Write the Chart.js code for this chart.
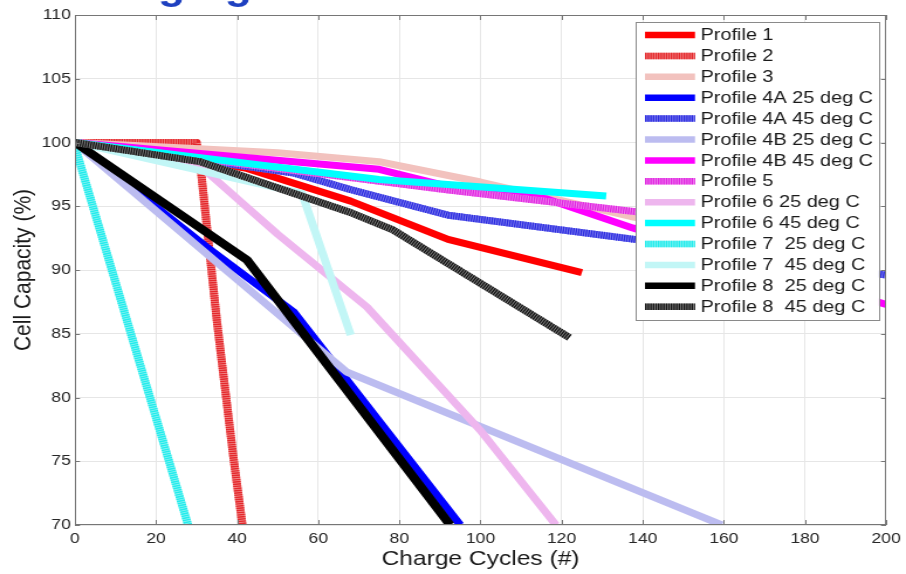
<!DOCTYPE html>
<html><head><meta charset="utf-8">
<script src="https://cdn.jsdelivr.net/npm/chart.js@4/dist/chart.umd.min.js"></script>
<style>html,body{margin:0;padding:0;background:#fff;overflow:hidden}</style>
</head><body>
<canvas id="c" width="774" height="574" style="width:906px;height:574px;display:block"></canvas>
<script>
// ---------- DATA ----------
const seriesNames = ["Profile 1","Profile 2","Profile 3","Profile 4A 25 deg C","Profile 4A 45 deg C","Profile 4B 25 deg C","Profile 4B 45 deg C","Profile 5","Profile 6 25 deg C","Profile 6 45 deg C","Profile 7  25 deg C","Profile 7  45 deg C","Profile 8  25 deg C","Profile 8  45 deg C"];
const xTickValues = [0,20,40,60,80,100,120,140,160,180,200];
const yTickValues = [70,75,80,85,90,95,100,105,110];

const p1Cycles = [0,42,68,92,125];            const p1Capacity = [100,98,95.4,92.4,89.8];
const p2Cycles = [0,30,31,35,39,41.3];        const p2Capacity = [100,100,98,86,75.5,70];
const p3Cycles = [0,50,75,100,137,155];       const p3Capacity = [100,99.2,98.5,96.9,94.2,93.2];
const p4a25Cycles = [0,32.5,54,95];           const p4a25Capacity = [100,91.8,86.7,70];
const p4a45Cycles = [0,54,68,92,138,200];     const p4a45Capacity = [100,97.6,96.3,94.3,92.4,89.6];
const p4b25Cycles = [0,67,159.5];             const p4b25Capacity = [100,82,70];
const p4b45Cycles = [0,75,91.5,116,137.5,200];const p4b45Capacity = [100,97.9,96.6,95.6,93.3,87.3];
const p5Cycles = [0,91.5,137.5,155];          const p5Capacity = [100,96.3,94.6,94.0];
const p6a25Cycles = [0,30,50,72,100,118.6];   const p6a25Capacity = [100,98.4,92.8,87.1,77.4,70];
const p6a45Cycles = [0,75,131];               const p6a45Capacity = [100,97.1,95.8];
const p7a25Cycles = [0,27.9];                 const p7a25Capacity = [99.7,70];
const p7a45Cycles = [0,56,68];                const p7a45Capacity = [100,96,84.9];
const p8a25Cycles = [0,42.4,92.5];            const p8a25Capacity = [100,90.8,70];
const p8a45Cycles = [0,30.8,68,78.4,121.9];   const p8a45Capacity = [100,98.5,94.5,93.15,84.7];

const allCycles = [p1Cycles,p2Cycles,p3Cycles,p4a25Cycles,p4a45Cycles,p4b25Cycles,p4b45Cycles,p5Cycles,p6a25Cycles,p6a45Cycles,p7a25Cycles,p7a45Cycles,p8a25Cycles,p8a45Cycles];
const allCapacity = [p1Capacity,p2Capacity,p3Capacity,p4a25Capacity,p4a45Capacity,p4b25Capacity,p4b45Capacity,p5Capacity,p6a25Capacity,p6a45Capacity,p7a25Capacity,p7a45Capacity,p8a25Capacity,p8a45Capacity];

// ---------- STYLE ----------
const styles = [
  {c:'#ff0000', h:null, w:7},
  {c:'#e4282c', h:'#f28a8a', w:7},
  {c:'#f2c2be', h:null, w:7},
  {c:'#0000ff', h:null, w:7},
  {c:'#2b2be0', h:'#8a8af0', w:7},
  {c:'#bcbcf0', h:null, w:7},
  {c:'#ff00ff', h:null, w:7},
  {c:'#e024e0', h:'#f290f2', w:7},
  {c:'#eeb6ee', h:null, w:7},
  {c:'#00ffff', h:null, w:7},
  {c:'#22ecec', h:'#8ef4f4', w:7},
  {c:'#c2f6f6', h:null, w:7},
  {c:'#000000', h:null, w:8},
  {c:'#151515', h:'#8a8a8a', w:7}
];
const DASH = [1.4, 0.8];
const SX = 906/774; // horizontal stretch of the picture
const FONT = '"Liberation Sans", Arial, Helvetica, sans-serif';
Chart.defaults.font.family = FONT;

const datasets = seriesNames.map((name,i)=>({
  label: name,
  data: allCycles[i].map((x,k)=>({x:x, y:allCapacity[i][k]})),
  borderColor: styles[i].c,
  backgroundColor: styles[i].c,
  borderWidth: styles[i].w,
  borderDash: styles[i].h ? DASH : [],
  hatchColor: styles[i].h,
  borderCapStyle: 'butt',
  borderJoinStyle: 'round',
  showLine: true,
  pointRadius: 0,
  pointHoverRadius: 0,
  tension: 0,
  clip: 0,
  order: seriesNames.length - i
}));

const hatchPlugin = {
  id: 'hatchUnder',
  beforeDatasetDraw(chart, args){
    const ds = chart.data.datasets[args.index];
    if (!ds.hatchColor) return;
    const pts = args.meta.data, ctx = chart.ctx, a = chart.chartArea;
    ctx.save();
    ctx.beginPath(); ctx.rect(a.left, a.top, a.right-a.left, a.bottom-a.top); ctx.clip();
    ctx.beginPath();
    pts.forEach((p,k)=> k ? ctx.lineTo(p.x,p.y) : ctx.moveTo(p.x,p.y));
    ctx.strokeStyle = ds.hatchColor; ctx.lineWidth = ds.borderWidth;
    ctx.lineJoin = 'round'; ctx.lineCap = 'butt'; ctx.setLineDash([]);
    ctx.stroke();
    ctx.restore();
  }
};

const framePlugin = {
  id: 'frameLegend',
  afterDraw(chart){
    const ctx = chart.ctx, a = chart.chartArea;
    const xs = chart.scales.x, ys = chart.scales.y;
    ctx.save();
    // clipped page title
    ctx.font = 'bold 38px ' + FONT;
    ctx.fillStyle = '#1e40c0';
    ctx.textBaseline = 'alphabetic';
    ctx.textAlign = 'left';
    ctx.fillText('Aging', 107.5, -1);
    // axes box
    ctx.strokeStyle = '#767676'; ctx.lineWidth = 1;
    ctx.strokeRect(a.left+0.5, a.top+0.5, a.right-a.left-1, a.bottom-a.top-1);
    ctx.beginPath();
    xTickValues.forEach(v=>{
      const px = Math.round(xs.getPixelForValue(v))+0.5;
      ctx.moveTo(px, a.bottom); ctx.lineTo(px, a.bottom-5);
      ctx.moveTo(px, a.top); ctx.lineTo(px, a.top+5);
    });
    yTickValues.forEach(v=>{
      const py = Math.round(ys.getPixelForValue(v))+0.5;
      ctx.moveTo(a.left, py); ctx.lineTo(a.left+4.3, py);
      ctx.moveTo(a.right, py); ctx.lineTo(a.right-4.3, py);
    });
    ctx.stroke();
    // legend
    const L = 636/SX, R = 879/SX, T = 22, B = 320;
    ctx.fillStyle = '#ffffff';
    ctx.fillRect(L, T, R-L, B-T);
    ctx.strokeStyle = '#8a8a8a';
    ctx.strokeRect(Math.round(L)+0.5, T+0.5, Math.round(R-L), B-T);
    ctx.font = '17px ' + FONT;
    ctx.textBaseline = 'middle';
    ctx.textAlign = 'left';
    seriesNames.forEach((name,i)=>{
      const y = 35 + i*20.9;
      const st = styles[i];
      const x0 = 645/SX, x1 = 695/SX;
      ctx.lineCap = 'butt';
      ctx.lineWidth = 6.5;
      if (st.h){
        ctx.setLineDash([]);
        ctx.strokeStyle = st.h;
        ctx.beginPath(); ctx.moveTo(x0,y); ctx.lineTo(x1,y); ctx.stroke();
        ctx.setLineDash(DASH);
      } else ctx.setLineDash([]);
      ctx.strokeStyle = st.c;
      ctx.beginPath(); ctx.moveTo(x0,y); ctx.lineTo(x1,y); ctx.stroke();
      ctx.setLineDash([]);
      ctx.fillStyle = '#1a1a1a';
      ctx.fillText(name, 700.5/SX, y+0.5);
    });
    ctx.restore();
  }
};

new Chart(document.getElementById('c'), {
  type: 'scatter',
  data: { datasets },
  plugins: [hatchPlugin, framePlugin],
  options: {
    responsive: false,
    devicePixelRatio: 1,
    animation: false,
    events: [],
    layout: { padding: { left: 0, right: 16, top: 15, bottom: 0 } },
    plugins: { legend: { display: false }, tooltip: { enabled: false }, title: { display: false } },
    scales: {
      x: {
        type: 'linear', min: 0, max: 200,
        afterBuildTicks: s => { s.ticks = xTickValues.map(v=>({value:v})); },
        afterFit: s => { s.height = 49; },
        grid: { color: '#e6e6e6', drawTicks: false, lineWidth: 1 },
        border: { display: false },
        ticks: { padding: 4.5, color: '#262626', font: { size: 15 }, maxRotation: 0, autoSkip: false },
        title: { display: true, text: 'Charge Cycles (#)', color: '#1a1a1a', font: { size: 21 }, padding: { top: 0, bottom: 2.4 } }
      },
      y: {
        type: 'linear', min: 70, max: 110,
        afterBuildTicks: s => { s.ticks = yTickValues.map(v=>({value:v})); },
        afterFit: s => { s.width = 64; },
        grid: { color: '#e6e6e6', drawTicks: false, lineWidth: 1 },
        border: { display: false },
        ticks: { padding: 3.5, color: '#262626', font: { size: 15 }, autoSkip: false },
        title: { display: true, text: 'Cell Capacity (%)', color: '#1a1a1a', font: { size: 21 }, padding: { top: 7.9, bottom: 0 } }
      }
    }
  }
});
</script>
</body></html>
